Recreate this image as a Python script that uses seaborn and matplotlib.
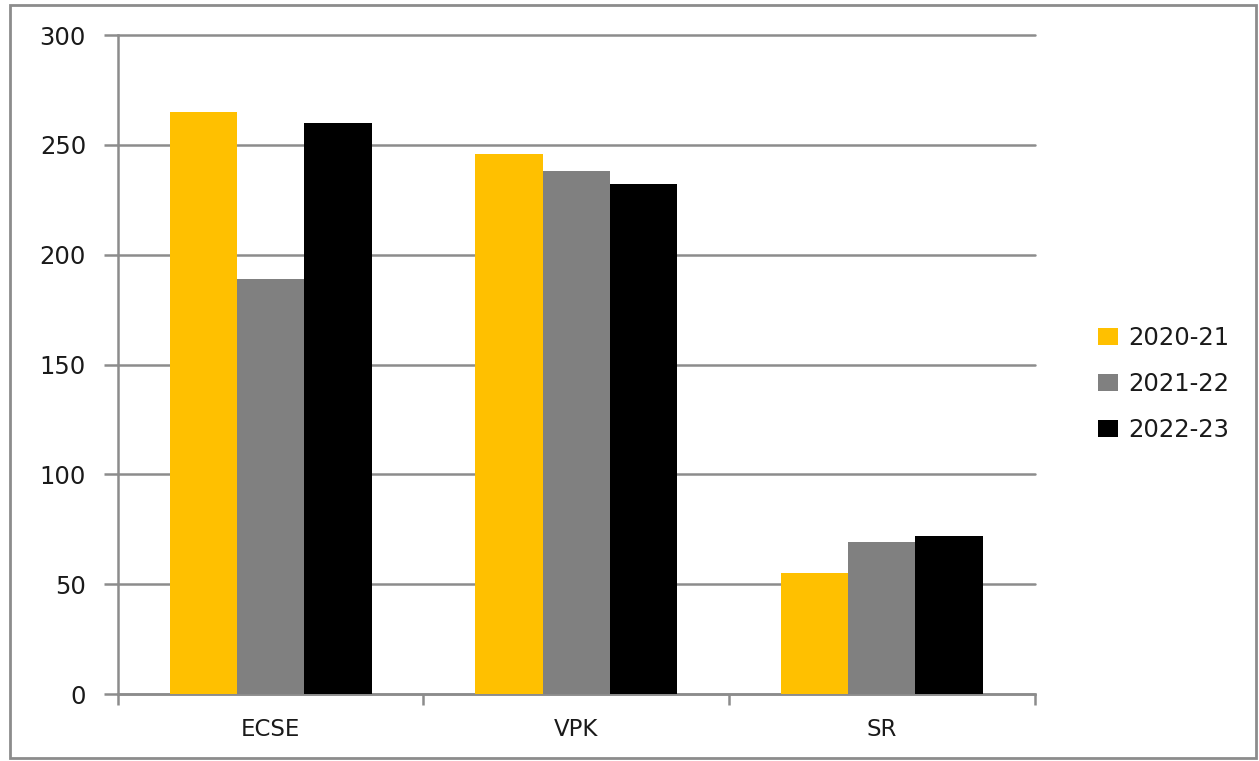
import matplotlib
matplotlib.use("Agg")
import matplotlib.pyplot as plt
import seaborn as sns
import pandas as pd
from matplotlib.patches import Rectangle

categories = ["ECSE", "VPK", "SR"]
years = ["2020-21", "2021-22", "2022-23"]
vals_2020_21 = [265, 246, 55]
vals_2021_22 = [189, 238, 69]
vals_2022_23 = [260, 232, 72]
colors = ["#FFC000", "#808080", "#000000"]

rows = []
for yr, vals in zip(years, [vals_2020_21, vals_2021_22, vals_2022_23]):
    for c, v in zip(categories, vals):
        rows.append({"category": c, "year": yr, "value": v})
df = pd.DataFrame(rows)

sns.set_style("white")
plt.rcParams['font.family'] = ['DejaVu Sans']

fig = plt.figure(figsize=(12.59, 7.61), dpi=100)
ax = fig.add_axes([0.0937, 0.088, 0.728, 0.866])
sns.barplot(data=df, x="category", y="value", hue="year", palette=colors,
            width=0.66, ax=ax, saturation=1, edgecolor="none", zorder=3)

ax.set_ylim(0, 300)
ax.set_xlim(-0.5, 2.5)
ax.set_yticks([0, 50, 100, 150, 200, 250, 300])
ax.yaxis.grid(True, color="#8c8c8c", linewidth=1.8, zorder=0)
for gl in ax.get_ygridlines():
    gl.set_clip_on(False)
ax.set_axisbelow(True)
ax.set_xlabel("")
ax.set_ylabel("")
for s in ["top", "right"]:
    ax.spines[s].set_visible(False)
for s in ["left", "bottom"]:
    ax.spines[s].set_color("#8c8c8c")
    ax.spines[s].set_linewidth(1.8)
ax.tick_params(axis="y", length=10, width=1.8, color="#8c8c8c", labelsize=17.5,
               labelcolor="#1a1a1a", pad=13, direction="out", left=True)
ax.tick_params(axis="x", which="major", length=0, labelsize=16.5, labelcolor="#1a1a1a", pad=17)
ax.set_xticks([-0.5, 0.5, 1.5, 2.5], minor=True)
ax.tick_params(axis="x", which="minor", length=8, width=1.8, color="#8c8c8c", direction="out", bottom=True)

leg = ax.legend(loc="center left", bbox_to_anchor=(1.045, 0.47), frameon=False,
                fontsize=17.5, handlelength=0.85, handleheight=0.7, handletextpad=0.4,
                labelspacing=0.9)
for t in leg.get_texts():
    t.set_color("#1a1a1a")

fig.patches.append(Rectangle((0.008, 0.004), 0.99, 0.99, transform=fig.transFigure,
                             fill=False, edgecolor="#8c8c8c", linewidth=2))

fig.savefig("out.png", dpi=100)
